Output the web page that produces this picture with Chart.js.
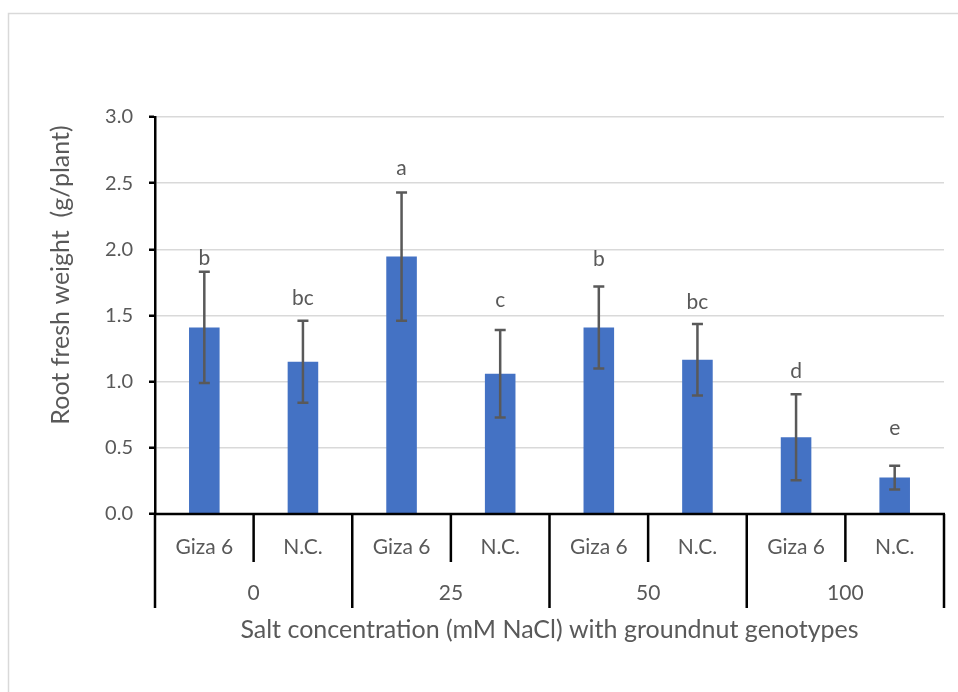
<!DOCTYPE html>
<html>
<head>
<meta charset="utf-8">
<script src="https://cdn.jsdelivr.net/npm/chart.js@4"></script>
<style>
  html, body { margin: 0; padding: 0; background: #fff; }
  #wrap { width: 958px; height: 692px; position: relative; }
</style>
</head>
<body>
<div id="wrap"><canvas id="chart"></canvas></div>
<script>
// data
const genotypes = ['Giza 6', 'N.C.', 'Giza 6', 'N.C.', 'Giza 6', 'N.C.', 'Giza 6', 'N.C.'];
const saltLevels = ['0', '25', '50', '100'];
const rootWeight = [1.41, 1.15, 1.945, 1.06, 1.41, 1.165, 0.58, 0.275];
const errors = [0.42, 0.31, 0.485, 0.33, 0.31, 0.27, 0.325, 0.09];
const letters = ['b', 'bc', 'a', 'c', 'b', 'bc', 'd', 'e'];
const letterAt = [1.88, 1.58, 2.56, 1.565, 1.877, 1.55, 1.03, 0.60];
const yTicks = [0, 0.5, 1, 1.5, 2, 2.5, 3];

const FONT = 'Lato, "Liberation Sans", sans-serif';
const GREY = '#595959';

// chart border + error bars + letters + two-level x axis + y title
const extras = {
  id: 'extras',
  beforeDraw(chart) {
    const ctx = chart.ctx;
    ctx.save();
    ctx.fillStyle = '#fff';
    ctx.fillRect(0, 0, chart.width, chart.height);
    ctx.strokeStyle = '#d9d9d9';
    ctx.lineWidth = 1.5;
    ctx.strokeRect(8.5, 13.5, chart.width + 10, chart.height + 10);
    ctx.restore();
  },
  afterDatasetsDraw(chart) {
    const ctx = chart.ctx;
    const y = chart.scales.y;
    const meta = chart.getDatasetMeta(0);
    ctx.save();
    ctx.strokeStyle = GREY;
    ctx.lineWidth = 2.5;
    meta.data.forEach((bar, i) => {
      const top = y.getPixelForValue(rootWeight[i] + errors[i]);
      const bot = y.getPixelForValue(rootWeight[i] - errors[i]);
      ctx.beginPath();
      ctx.moveTo(bar.x, top); ctx.lineTo(bar.x, bot);
      ctx.moveTo(bar.x - 5.5, top); ctx.lineTo(bar.x + 5.5, top);
      ctx.moveTo(bar.x - 5.5, bot); ctx.lineTo(bar.x + 5.5, bot);
      ctx.stroke();
    });
    ctx.fillStyle = GREY;
    ctx.font = '21px ' + FONT;
    ctx.textAlign = 'center';
    ctx.textBaseline = 'alphabetic';
    meta.data.forEach((bar, i) => {
      ctx.fillText(letters[i], bar.x, y.getPixelForValue(letterAt[i]));
    });

    // x axis drawn by hand (grouped categories)
    const area = chart.chartArea;
    const n = genotypes.length;
    const step = (area.right - area.left) / n;
    const base = area.bottom;
    ctx.strokeStyle = '#000';
    ctx.lineWidth = 2.5;
    ctx.beginPath();
    ctx.moveTo(area.left - 1, base); ctx.lineTo(area.right + 1, base);
    for (let i = 0; i <= n; i++) {
      const x = area.left + i * step;
      ctx.moveTo(x, base);
      ctx.lineTo(x, base + (i % 2 === 0 ? 94 : 48));
    }
    ctx.stroke();

    ctx.fillStyle = GREY;
    ctx.font = '21px ' + FONT;
    ctx.textBaseline = 'middle';
    genotypes.forEach((g, i) => {
      ctx.fillText(g, area.left + (i + 0.5) * step, base + 33);
    });
    saltLevels.forEach((s, i) => {
      ctx.fillText(s, area.left + (i * 2 + 1) * step, base + 79);
    });
    ctx.font = '25px ' + FONT;
    ctx.fillText('Salt concentration (mM NaCl) with groundnut genotypes',
      (area.left + area.right) / 2, base + 116);

    // y title sits a bit above the axis middle, like the original
    ctx.translate(61, 275);
    ctx.rotate(-Math.PI / 2);
    ctx.font = '25px ' + FONT;
    ctx.fillText('Root fresh weight  (g/plant)', 0, 0);
    ctx.restore();
  }
};

new Chart(document.getElementById('chart'), {
  type: 'bar',
  data: {
    labels: genotypes,
    datasets: [{
      data: rootWeight,
      backgroundColor: '#4472c4',
      borderWidth: 0,
      categoryPercentage: 1,
      barPercentage: 0.31
    }]
  },
  options: {
    responsive: true,
    maintainAspectRatio: false,
    animation: false,
    devicePixelRatio: 1,
    layout: { padding: { left: 0, top: 117, right: 14, bottom: 178 } },
    plugins: { legend: { display: false }, tooltip: { enabled: false } },
    scales: {
      x: { display: false },
      y: {
        min: 0,
        max: 3,
        afterFit(scale) { scale.width = 155; },
        afterBuildTicks(scale) { scale.ticks = yTicks.map(v => ({ value: v })); },
        ticks: {
          color: GREY,
          font: { family: FONT, size: 20 },
          padding: 16,
          callback: v => Number(v).toFixed(1)
        },
        grid: {
          color: '#d9d9d9',
          lineWidth: 1.5,
          tickColor: '#000',
          tickLength: 6,
          tickWidth: 2.5
        },
        border: { display: true, color: '#000', width: 2.5 },
        title: { display: false }
      }
    }
  },
  plugins: [extras]
});
</script>
</body>
</html>
